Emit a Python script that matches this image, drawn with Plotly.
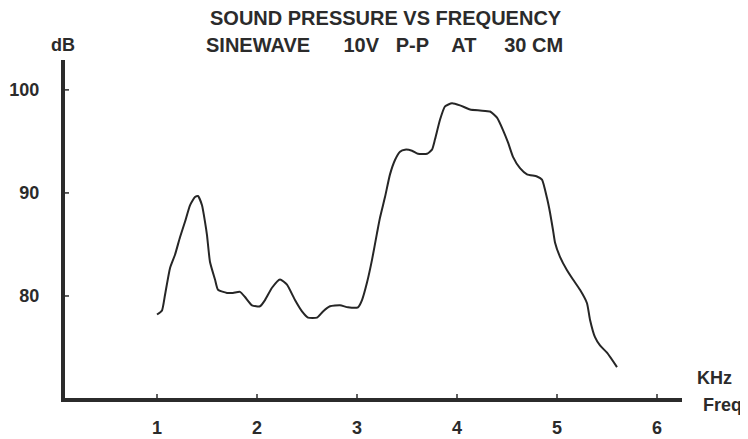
import plotly.graph_objects as go

# Data
freq_khz = [1.00, 1.05, 1.08, 1.13, 1.18, 1.23, 1.28, 1.33, 1.38, 1.41, 1.45, 1.48, 1.50, 1.53, 1.58, 1.61,
            1.70, 1.76, 1.83, 1.88, 1.95, 2.03, 2.08, 2.15, 2.23, 2.30, 2.38, 2.45, 2.51, 2.60, 2.66, 2.73,
            2.83, 2.91, 3.01, 3.05, 3.10, 3.15, 3.20, 3.23, 3.28, 3.33, 3.38, 3.43, 3.48, 3.55, 3.61, 3.70,
            3.75, 3.78, 3.83, 3.88, 3.95, 4.03, 4.13, 4.23, 4.33, 4.40, 4.46, 4.51, 4.56, 4.63, 4.70, 4.80,
            4.85, 4.90, 4.93, 4.96, 4.98, 5.03, 5.10, 5.16, 5.23, 5.30, 5.33, 5.38, 5.43, 5.50, 5.60]
spl_db = [78.2, 78.6, 80.1, 82.7, 84.0, 85.7, 87.2, 88.8, 89.6, 89.7, 88.8, 87.2, 85.9, 83.3, 81.6, 80.6,
          80.3, 80.3, 80.4, 79.9, 79.1, 79.0, 79.6, 80.8, 81.6, 81.1, 79.6, 78.5, 77.9, 77.9, 78.5, 79.0,
          79.1, 78.9, 78.9, 79.6, 81.3, 83.5, 86.1, 87.6, 89.6, 91.8, 93.2, 94.0, 94.2, 94.1, 93.8, 93.8,
          94.2, 95.2, 97.1, 98.4, 98.7, 98.5, 98.1, 98.0, 97.9, 97.3, 96.1, 94.9, 93.5, 92.4, 91.8, 91.6,
          91.3, 89.5, 88.1, 86.4, 85.2, 83.8, 82.5, 81.6, 80.6, 79.3, 77.7, 76.0, 75.2, 74.5, 73.1]

x_ticks = [1, 2, 3, 4, 5, 6]
y_ticks = [80, 90, 100]
x_tick_labels = ["1", "2", "3", "4", "5", "6"]
y_tick_labels = ["80", "90", "100"]

X_MIN, X_MAX = 0.08, 6.25
Y_MIN, Y_MAX = 70.1, 102.9
X_AXIS_AT = 69.9   # data value where the drawn x-axis line sits
Y_AXIS_AT = 0.06   # data value where the drawn y-axis line sits

AXIS_COLOR = "#2b2b2b"
LABEL_FONT = dict(family="Liberation Sans, Arial, sans-serif", size=18, color="#2b2b2b")
TITLE_FONT = dict(family="Liberation Sans, Arial, sans-serif", size=20, color="#2b2b2b")

# page body has an 8px default margin; compensate so the chart lands where the reference has it
OFF = 8
W, H = 748 - OFF, 439 - OFF
ML, MR, MT, MB = 65 - OFF, 66, 60 - OFF, 41
PW, PH = W - ML - MR, H - MT - MB

def px_to_paper(px, py):
    px, py = px - OFF, py - OFF
    return (px - ML) / PW, ((H - py) - MB) / PH

fig = go.Figure()

fig.add_trace(go.Scatter(
    x=freq_khz, y=spl_db, mode="lines",
    line=dict(color="#262626", width=2, shape="spline", smoothing=0.5),
    hoverinfo="skip", showlegend=False,
))

fig.update_xaxes(
    range=[X_MIN, X_MAX], showgrid=False, zeroline=False, automargin=False,
    showline=True, linecolor=AXIS_COLOR, linewidth=4,
    tickvals=x_ticks, ticktext=["<b>%s</b>" % t for t in x_tick_labels],
    ticks="", tickfont=LABEL_FONT, ticklabelstandoff=10,
)
fig.update_yaxes(
    range=[Y_MIN, Y_MAX], showgrid=False, zeroline=False, automargin=False,
    showline=True, linecolor=AXIS_COLOR, linewidth=4,
    tickvals=y_ticks, ticktext=["<b>%s</b>" % t for t in y_tick_labels],
    ticks="", tickfont=LABEL_FONT, ticklabelstandoff=18,
)

# crossing tick marks (through the axis line), one per tick value
shapes = []
for t in x_ticks:
    shapes.append(dict(type="line", xref="x", yref="y", ysizemode="pixel", yanchor=X_AXIS_AT,
                       x0=t, x1=t, y0=-6, y1=6, layer="above",
                       line=dict(color=AXIS_COLOR, width=1.5)))
for t in y_ticks:
    shapes.append(dict(type="line", xref="x", yref="y", xsizemode="pixel", xanchor=Y_AXIS_AT,
                       y0=t, y1=t, x0=-6, x1=6, layer="above",
                       line=dict(color=AXIS_COLOR, width=1.5)))

sp = "\u00a0"
line2 = "SINEWAVE" + sp * 6 + "10V" + sp * 3 + "P-P" + sp * 4 + "AT" + sp * 5 + "30 CM"

ann = []
for text, px, py in [("SOUND PRESSURE VS FREQUENCY", 386, 18), (line2, 384, 45)]:
    xp, yp = px_to_paper(px, py)
    ann.append(dict(text="<b>%s</b>" % text, x=xp, y=yp, xref="paper", yref="paper",
                    showarrow=False, font=TITLE_FONT, xanchor="center", yanchor="middle",
                    borderpad=0))

for text, px, py in [("dB", 63, 45), ("KHz", 714, 378), ("Freq", 722, 405)]:
    xp, yp = px_to_paper(px, py)
    ann.append(dict(text="<b>%s</b>" % text, x=xp, y=yp, xref="paper", yref="paper",
                    showarrow=False, font=dict(LABEL_FONT, size=18),
                    xanchor="center", yanchor="middle"))

fig.update_layout(
    width=W, height=H,
    margin=dict(l=ML, r=MR, t=MT, b=MB, pad=0),
    paper_bgcolor="white", plot_bgcolor="white",
    annotations=ann, shapes=shapes, showlegend=False,
)

fig.write_html("out.html")
